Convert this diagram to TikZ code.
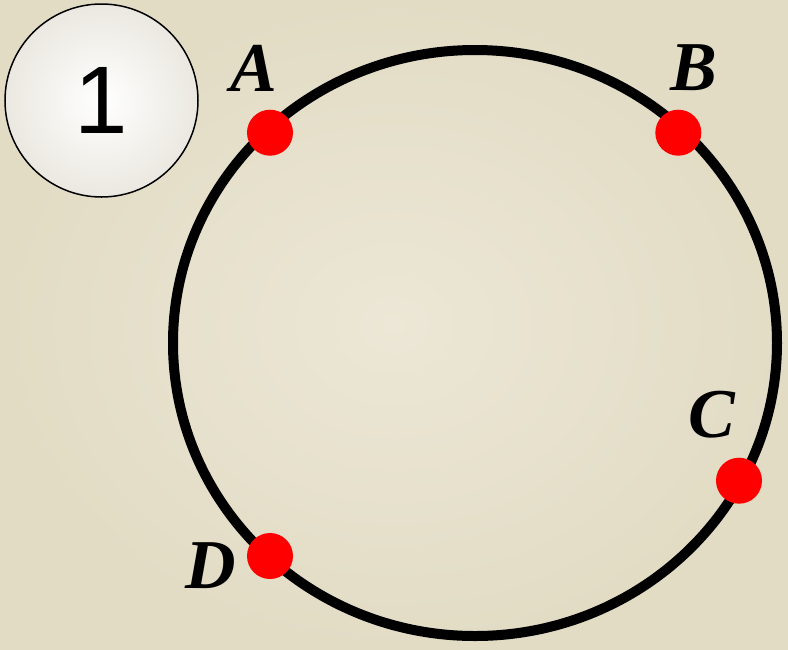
\documentclass[tikz,border=0pt]{standalone}
\usepackage{fontspec}
\setmainfont{Liberation Serif}
\newfontfamily\badgefont{Liberation Sans}
\usetikzlibrary{shadings,shapes.geometric}
\definecolor{parch}{RGB}{226,220,197}
\definecolor{parchlight}{RGB}{236,231,214}
\definecolor{badgeedge}{RGB}{234,232,224}
\definecolor{dotred}{RGB}{255,0,0}
\tikzset{
  pointdot/.style={circle,fill=dotred,draw=none,minimum size=46pt,inner sep=0pt},
  ptlabel/.style={font=\fontsize{70}{70}\selectfont\bfseries\itshape,inner sep=0pt,anchor=center},
  badge/.style={circle,draw=black,line width=1.5pt,minimum size=193pt,inner sep=0pt,
    inner color=white,outer color=badgeedge,font=\badgefont\fontsize{96}{96}\selectfont},
  ring/.style={ellipse,draw=black,line width=10pt,inner sep=0pt}
}
\begin{document}
\begin{tikzpicture}[x=1pt,y=-1pt]
\useasboundingbox (0,0) rectangle (788,649);
\shade[inner color=parchlight,outer color=parch] (0,0) rectangle (788,649);
% main ring
\node[ring,minimum width=604pt,minimum height=586pt] (ring) at (475,343) {};
% badge
\node[badge] (badge) at (101.5,100.5) {1};
% points
\node[pointdot] (A) at (270,132.7) {};
\node[pointdot] (B) at (678.3,132.7) {};
\node[pointdot] (C) at (739,480.7) {};
\node[pointdot] (D) at (270,556) {};
% labels
\node[ptlabel] (lA) at (254,68) {A};
\node[ptlabel] (lB) at (694,68) {B};
\node[ptlabel] (lC) at (712,415) {C};
\node[ptlabel] (lD) at (211,566) {D};
\end{tikzpicture}
\end{document}
